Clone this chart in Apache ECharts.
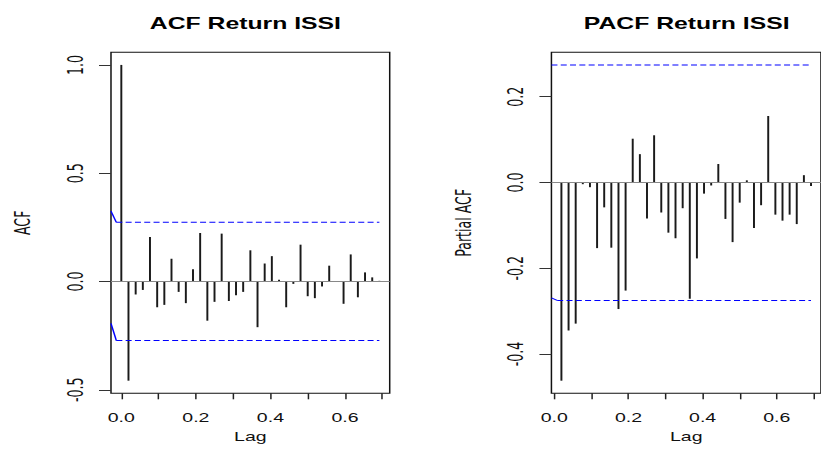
<!DOCTYPE html>
<html>
<head>
<meta charset="utf-8">
<script src="https://cdn.jsdelivr.net/npm/echarts@6/dist/echarts.min.js"></script>
<style>
html, body { margin: 0; padding: 0; background: #fff; overflow: hidden; }
/* the reference is stretched sideways, so the chart is drawn narrow and widened */
#main { width: 547px; height: 451px; transform: scaleX(1.5009); transform-origin: 0 0; }
</style>
</head>
<body>
<div id="main"></div>
<script>
// lags (weekly, frequency 52)
const acfLags = [0, 0.0192, 0.0385, 0.0577, 0.0769, 0.0962, 0.1154, 0.1346, 0.1538, 0.1731,
    0.1923, 0.2115, 0.2308, 0.25, 0.2692, 0.2885, 0.3077, 0.3269, 0.3462, 0.3654,
    0.3846, 0.4038, 0.4231, 0.4423, 0.4615, 0.4808, 0.5, 0.5192, 0.5385, 0.5577,
    0.5769, 0.5962, 0.6154, 0.6346, 0.6538, 0.6731, 0.6923]
const acfValues = [1.0, -0.458, -0.060, -0.039, 0.205, -0.119, -0.108, 0.105, -0.048, -0.100,
    0.056, 0.224, -0.181, -0.094, 0.221, -0.090, -0.063, -0.048, 0.144, -0.211,
    0.083, 0.117, 0.008, -0.119, -0.011, 0.170, -0.068, -0.077, -0.023, 0.073,
    0.002, -0.103, 0.125, -0.073, 0.042, 0.019, 0.003]

const pacfLags = [0.0192, 0.0385, 0.0577, 0.0769, 0.0962, 0.1154, 0.1346, 0.1538, 0.1731,
    0.1923, 0.2115, 0.2308, 0.25, 0.2692, 0.2885, 0.3077, 0.3269, 0.3462, 0.3654,
    0.3846, 0.4038, 0.4231, 0.4423, 0.4615, 0.4808, 0.5, 0.5192, 0.5385, 0.5577,
    0.5769, 0.5962, 0.6154, 0.6346, 0.6538, 0.6731, 0.6923]
const pacfValues = [-0.462, -0.345, -0.329, -0.004, -0.011, -0.153, -0.058, -0.152, -0.295,
    -0.252, 0.102, 0.066, -0.084, 0.110, -0.070, -0.117, -0.130, -0.060, -0.271,
    -0.177, -0.026, -0.007, 0.043, -0.085, -0.139, -0.047, 0.005, -0.106, -0.053,
    0.155, -0.075, -0.089, -0.075, -0.097, 0.017, -0.008]

// confidence bounds (blue)
const acfCiUpperSolid = [[-0.0277, 0.325], [-0.0134, 0.273]]
const acfCiUpperDash = [[-0.0134, 0.273], [0.6923, 0.273]]
const acfCiLowerSolid = [[-0.0277, -0.193], [-0.0134, -0.273]]
const acfCiLowerDash = [[-0.0134, -0.273], [0.6923, -0.273]]
const pacfCiUpperDash = [[-0.0077, 0.274], [0.6923, 0.274]]
const pacfCiLowerSolid = [[-0.0077, -0.269], [0.0078, -0.275]]
const pacfCiLowerDash = [[0.0078, -0.275], [0.6923, -0.275]]

// ticks
const xTicks = [0, 0.1, 0.2, 0.3, 0.4, 0.5, 0.6, 0.7]
const xTickLabels = [0, 0.2, 0.4, 0.6]
const acfYTicks = [-0.5, 0, 0.5, 1.0]
const pacfYTicks = [-0.4, -0.2, 0, 0.2]

const titles = ['ACF Return ISSI', 'PACF Return ISSI']
const yNames = ['ACF', 'Partial ACF']

const sans = "'Liberation Sans', Arial, sans-serif"
const narrow = "'Liberation Sans Narrow', 'DejaVu Sans Condensed', sans-serif"

const stick = (params, api) => {
    const p0 = api.coord([api.value(0), 0])
    const p1 = api.coord([api.value(0), api.value(1)])
    return {
        type: 'line',
        shape: { x1: p0[0], y1: p0[1], x2: p1[0], y2: p1[1] },
        style: { stroke: '#1a1a1a', lineWidth: 1.3 }
    }
}

const xAxisOf = (idx, min, max) => ({
    type: 'value',
    gridIndex: idx,
    min: min,
    max: max,
    axisLine: { show: false, onZero: false },
    splitLine: { show: false },
    axisTick: { show: true, length: 6, customValues: xTicks, lineStyle: { color: '#222' } },
    axisLabel: {
        customValues: xTickLabels,
        formatter: (v) => v.toFixed(1),
        fontSize: 13, fontFamily: sans, color: '#111', margin: 18
    },
    name: 'Lag',
    nameLocation: 'middle',
    nameGap: 37,
    nameTextStyle: { fontSize: 13, fontFamily: sans, color: '#111' }
})

const yAxisOf = (idx, min, max, ticks) => ({
    type: 'value',
    gridIndex: idx,
    min: min,
    max: max,
    axisLine: { show: false, onZero: false },
    splitLine: { show: false },
    axisTick: { show: true, length: 8, customValues: ticks, lineStyle: { color: '#333' } },
    axisLabel: {
        customValues: ticks,
        formatter: (v) => v.toFixed(1),
        rotate: 90,
        fontSize: 14, fontFamily: narrow, color: '#111', margin: 17
    },
    name: yNames[idx],
    nameLocation: 'middle',
    nameRotate: 90,
    nameGap: 52,
    nameTextStyle: { fontSize: 14, fontFamily: narrow, color: '#111' }
})

const blue = (idx, data, dashed) => ({
    type: 'line',
    xAxisIndex: idx,
    yAxisIndex: idx,
    data: data,
    symbol: 'none',
    silent: true,
    lineStyle: { color: '#0000ff', width: 1, type: dashed ? [4, 2.2] : 'solid' }
})

const zeroLine = {
    silent: true,
    symbol: ['none', 'none'],
    label: { show: false },
    lineStyle: { color: '#888', type: 'solid', width: 1 },
    data: [{ yAxis: 0 }]
}

const myChart = echarts.init(document.getElementById('main'), null, { renderer: 'svg' })

myChart.setOption({
    animation: false,
    backgroundColor: '#fff',
    graphic: [
        { type: 'text', x: 163.5, y: 23, style: { text: titles[0], font: 'bold 16.5px ' + sans, fill: '#000', textAlign: 'center', textVerticalAlign: 'middle', align: 'center', verticalAlign: 'middle' } },
        { type: 'text', x: 457.5, y: 23, style: { text: titles[1], font: 'bold 16.5px ' + sans, fill: '#000', textAlign: 'center', textVerticalAlign: 'middle', align: 'center', verticalAlign: 'middle' } }
    ],
    grid: [
        { left: 73.95, top: 52.3, width: 185.7, height: 341, show: true, borderColor: '#111', borderWidth: 1, backgroundColor: 'transparent' },
        { left: 367.4, top: 52.3, width: 186.3, height: 341, show: true, borderColor: '#111', borderWidth: 1, backgroundColor: 'transparent' }
    ],
    xAxis: [
        xAxisOf(0, -0.0277, 0.72),
        xAxisOf(1, -0.0077, 0.7192)
    ],
    yAxis: [
        yAxisOf(0, -0.5163, 1.0583, acfYTicks),
        yAxisOf(1, -0.4914, 0.3034, pacfYTicks)
    ],
    series: [
        {
            type: 'custom',
            xAxisIndex: 0, yAxisIndex: 0,
            renderItem: stick,
            data: acfLags.map((l, i) => [l, acfValues[i]]),
            markLine: zeroLine,
            silent: true
        },
        {
            type: 'custom',
            xAxisIndex: 1, yAxisIndex: 1,
            renderItem: stick,
            data: pacfLags.map((l, i) => [l, pacfValues[i]]),
            markLine: zeroLine,
            silent: true
        },
        blue(0, acfCiUpperSolid, false),
        blue(0, acfCiUpperDash, true),
        blue(0, acfCiLowerSolid, false),
        blue(0, acfCiLowerDash, true),
        blue(1, pacfCiUpperDash, true),
        blue(1, pacfCiLowerSolid, false),
        blue(1, pacfCiLowerDash, true)
    ]
})

window.addEventListener('resize', () => {
    myChart.resize()
})
</script>
</body>
</html>
